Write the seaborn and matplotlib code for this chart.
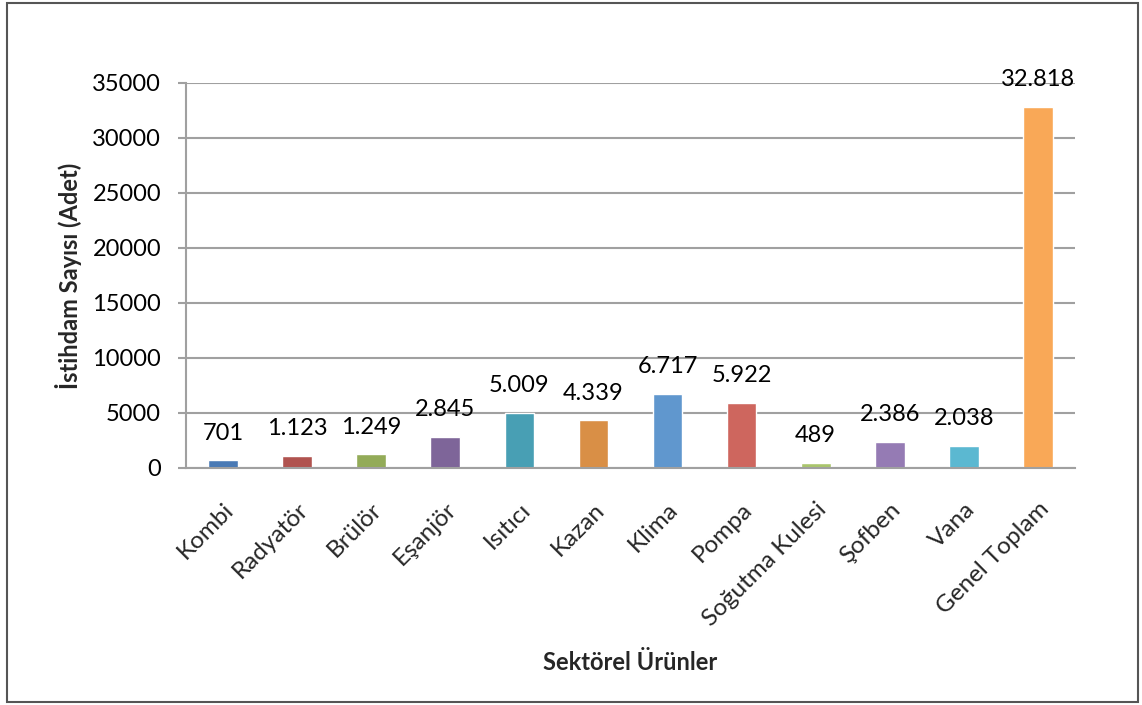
import matplotlib
matplotlib.use("Agg")
import matplotlib.pyplot as plt
import seaborn as sns
import pandas as pd
from matplotlib.patches import Rectangle

categories = ["Kombi", "Radyatör", "Brülör", "Eşanjör", "Isıtıcı", "Kazan", "Klima",
              "Pompa", "Soğutma Kulesi", "Şofben", "Vana", "Genel Toplam"]
values = [701, 1123, 1249, 2845, 5009, 4339, 6717, 5922, 489, 2386, 2038, 32818]
value_labels = ["701", "1.123", "1.249", "2.845", "5.009", "4.339", "6.717", "5.922",
                "489", "2.386", "2.038", "32.818"]
colors = ["#4A7AB5", "#B0534F", "#93AB58", "#7E6599", "#489FB4", "#D98F46",
          "#6097CE", "#CE665E", "#AAC56C", "#957BB4", "#5BB8D1", "#F9A857"]
y_ticks = [0, 5000, 10000, 15000, 20000, 25000, 30000, 35000]

sns.set_theme(style="white")
plt.rcParams["font.family"] = ["Lato", "DejaVu Sans"]

df = pd.DataFrame({"Ürün": categories, "Adet": values})

fig = plt.figure(figsize=(11.42, 7.05), dpi=100)
ax = fig.add_axes([0.1629, 0.3362, 0.9413 - 0.1629, 0.8823 - 0.3362])

sns.barplot(data=df, x="Ürün", y="Adet", hue="Ürün", palette=colors,
            width=0.4, legend=False, ax=ax, saturation=1)

ax.set_ylim(0, 35000)
ax.set_xlim(-0.5, len(categories) - 0.5)
ax.set_yticks(y_ticks)
ax.set_yticklabels([str(t) for t in y_ticks], fontsize=17)
ax.yaxis.grid(True, color="#A0A0A0", linewidth=1.5)
ax.set_axisbelow(True)

for s in ["top", "right"]:
    ax.spines[s].set_visible(False)
for s in ["left", "bottom"]:
    ax.spines[s].set_color("#A0A0A0")
    ax.spines[s].set_linewidth(1.5)

ax.tick_params(axis="y", which="major", length=6, width=1.5, color="#A0A0A0",
               left=True, pad=12, labelcolor="black")
ax.tick_params(axis="x", length=0, pad=22)
ax.set_xticks(range(len(categories)))
ax.set_xticklabels(categories, rotation=45, ha="right", rotation_mode="anchor",
                   fontsize=17.5)

for i, (v, lab) in enumerate(zip(values, value_labels)):
    ax.annotate(lab, xy=(i, v), xytext=(0, 12), textcoords="offset points",
                ha="center", va="bottom", fontsize=17, color="black")

ax.set_xlabel("Sektörel Ürünler", fontsize=17, fontweight="bold")
ax.set_ylabel("İstihdam Sayısı (Adet)", fontsize=17, fontweight="bold")
ax.xaxis.set_label_coords(0.5, -0.475)
ax.yaxis.set_label_coords(-0.117, 0.5)

fig.patches.append(Rectangle((7 / 1142, 3 / 705), (1138 - 7) / 1142, (702 - 3) / 705,
                             transform=fig.transFigure, fill=False,
                             edgecolor="#555555", linewidth=1.5))

fig.savefig("out.png", dpi=100, facecolor="white")
